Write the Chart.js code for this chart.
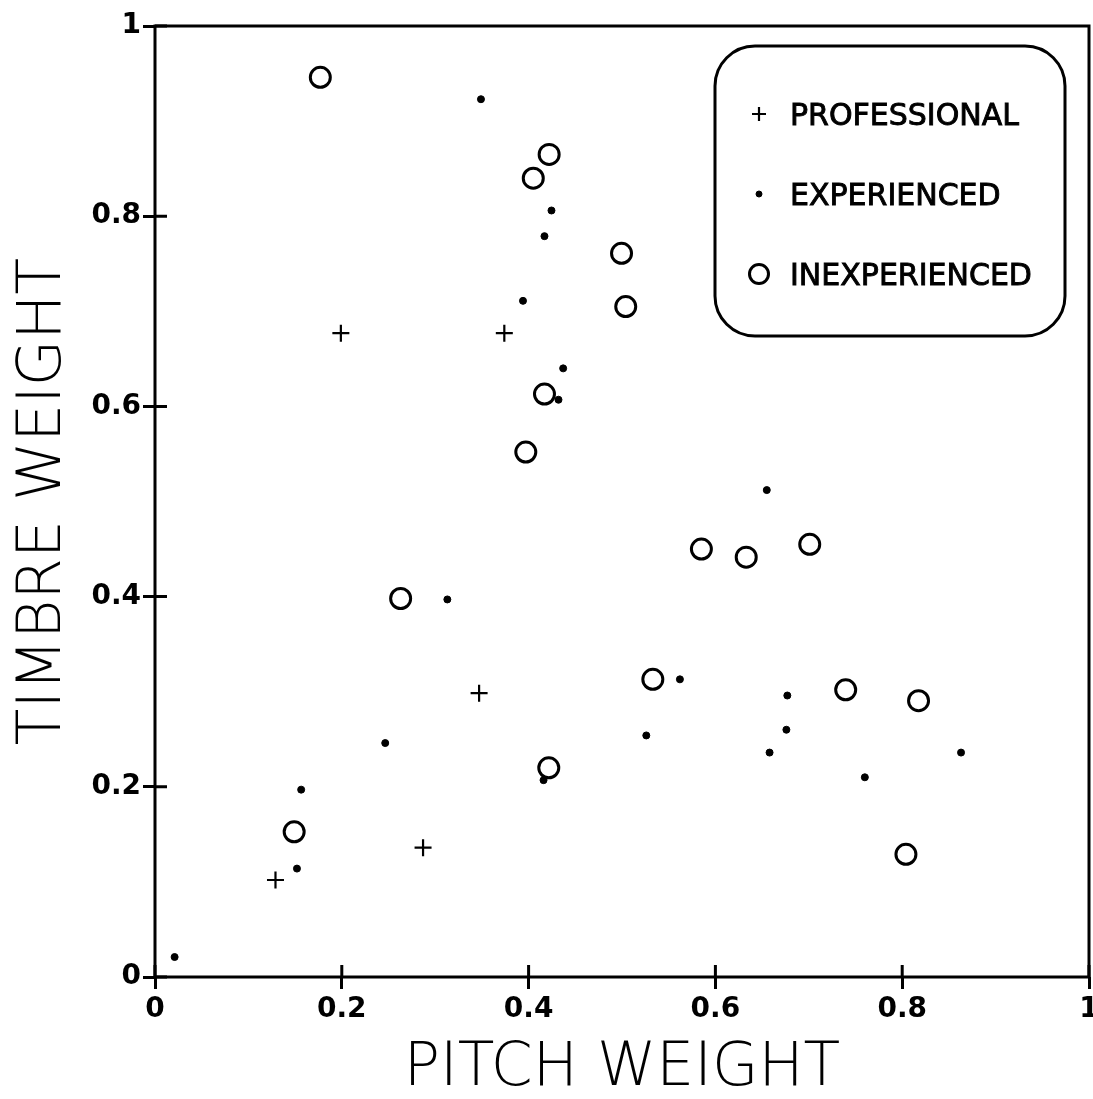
<!DOCTYPE html>
<html>
<head>
<meta charset="utf-8">
<script src="https://cdn.jsdelivr.net/npm/chart.js@4.4.0/dist/chart.umd.min.js"></script>
<style>
    html, body { margin: 0; padding: 0; background: #fff; }
    #wrap { width: 1093px; height: 1099px; }
</style>
</head>
<body>
<div id="wrap"><canvas id="chart"></canvas></div>
<script>
// values
const seriesNames = ['PROFESSIONAL', 'EXPERIENCED', 'INEXPERIENCED'];

const professionalX = [0.199, 0.374, 0.347, 0.287, 0.129];
const professionalY = [0.677, 0.677, 0.2985, 0.136, 0.102];

const experiencedX = [0.349, 0.4245, 0.417, 0.394, 0.437, 0.432, 0.655, 0.313, 0.2465, 0.1565,
    0.152, 0.021, 0.562, 0.677, 0.676, 0.526, 0.658, 0.760, 0.863, 0.416];
const experiencedY = [0.923, 0.806, 0.779, 0.711, 0.640, 0.607, 0.512, 0.397, 0.246, 0.197,
    0.114, 0.021, 0.313, 0.296, 0.260, 0.254, 0.236, 0.210, 0.236, 0.207];

const inexperiencedX = [0.177, 0.422, 0.405, 0.4995, 0.504, 0.417, 0.397, 0.585, 0.633, 0.701,
    0.263, 0.533, 0.7395, 0.8175, 0.4216, 0.149, 0.804];
const inexperiencedY = [0.946, 0.865, 0.840, 0.761, 0.705, 0.613, 0.552, 0.450, 0.4415, 0.455,
    0.398, 0.313, 0.302, 0.2905, 0.220, 0.1527, 0.129];

const xTickLabels = ['0', '0.2', '0.4', '0.6', '0.8', '1'];
const yTickLabels = ['0', '0.2', '0.4', '0.6', '0.8', '1'];

const toPoints = (xs, ys) => xs.map((x, i) => ({ x: x, y: ys[i] }));

const tickFont = { family: 'DejaVu Sans', size: 28, weight: 'bold' };
const titleFont = { family: 'DejaVu Sans', size: 60, weight: 200, lineHeight: 1 };

// frame, inward ticks and the rounded legend box
const framePlugin = {
    id: 'frame',
    afterDatasetsDraw(chart) {
        const { ctx, chartArea: a, scales } = chart;
        ctx.save();
        ctx.strokeStyle = '#000';
        ctx.lineWidth = 3;
        ctx.strokeRect(a.left, a.top, a.right - a.left, a.bottom - a.top);

        ctx.beginPath();
        scales.x.ticks.forEach(t => {
            const px = scales.x.getPixelForValue(t.value);
            ctx.moveTo(px, a.bottom);
            ctx.lineTo(px, a.bottom - 12);
        });
        scales.y.ticks.forEach(t => {
            const py = scales.y.getPixelForValue(t.value);
            ctx.moveTo(a.left, py);
            ctx.lineTo(a.left + 12, py);
        });
        ctx.stroke();

        // legend
        const bx = a.right - 374, by = a.top + 20;
        ctx.beginPath();
        ctx.roundRect(bx, by, 350, 290, 40);
        ctx.stroke();

        const rowBase = [79, 159, 239];
        ctx.font = '30px "DejaVu Sans"';
        ctx.textAlign = 'left';
        ctx.textBaseline = 'alphabetic';
        chart.data.datasets.forEach((ds, i) => {
            const cy = by + rowBase[i] - 11;
            ctx.fillStyle = ds.backgroundColor;
            ctx.strokeStyle = ds.borderColor;
            ctx.lineWidth = ds.borderWidth;
            Chart.helpers.drawPoint(ctx, {
                pointStyle: ds.pointStyle,
                radius: ds.legendRadius,
                borderWidth: ds.borderWidth,
                rotation: 0
            }, bx + 44, cy);
            ctx.fillStyle = '#000';
            ctx.strokeStyle = '#000';
            ctx.lineWidth = 0.9;
            ctx.fillText(ds.label, bx + 75, by + rowBase[i]);
            ctx.strokeText(ds.label, bx + 75, by + rowBase[i]);
        });
        ctx.restore();
    }
};

new Chart(document.getElementById('chart'), {
    type: 'scatter',
    data: {
        datasets: [
            {
                label: seriesNames[0],
                data: toPoints(professionalX, professionalY),
                pointStyle: 'cross',
                pointRadius: 8.5,
                legendRadius: 7,
                borderColor: '#000',
                backgroundColor: '#000',
                borderWidth: 2.2
            },
            {
                label: seriesNames[1],
                data: toPoints(experiencedX, experiencedY),
                pointStyle: 'circle',
                pointRadius: 3.5,
                legendRadius: 3,
                borderColor: '#000',
                backgroundColor: '#000',
                borderWidth: 1
            },
            {
                label: seriesNames[2],
                data: toPoints(inexperiencedX, inexperiencedY),
                pointStyle: 'circle',
                pointRadius: 10,
                legendRadius: 9.5,
                borderColor: '#000',
                backgroundColor: 'rgba(0,0,0,0)',
                borderWidth: 3
            }
        ]
    },
    options: {
        responsive: true,
        maintainAspectRatio: false,
        animation: false,
        layout: {
            autoPadding: false,
            padding: { top: 26, right: 4, left: 0, bottom: 0 }
        },
        plugins: {
            legend: { display: false },
            tooltip: { enabled: false }
        },
        scales: {
            x: {
                type: 'linear',
                min: 0,
                max: 1,
                border: { display: false },
                grid: {
                    drawOnChartArea: false,
                    tickLength: 12,
                    tickWidth: 3,
                    color: '#000'
                },
                ticks: {
                    stepSize: 0.2,
                    color: '#000',
                    font: tickFont,
                    padding: 4,
                    maxRotation: 0,
                    callback: (v, i) => xTickLabels[i]
                },
                title: {
                    display: true,
                    text: 'PITCH WEIGHT',
                    color: '#000',
                    font: titleFont,
                    padding: { top: 0, bottom: 0 }
                },
                afterFit(s) {
                    s.height = 122;
                    s.paddingLeft = 0;
                    s.paddingRight = 0;
                }
            },
            y: {
                type: 'linear',
                min: 0,
                max: 1,
                border: { display: false },
                grid: {
                    drawOnChartArea: false,
                    tickLength: 12,
                    tickWidth: 3,
                    color: '#000'
                },
                ticks: {
                    stepSize: 0.2,
                    color: '#000',
                    font: tickFont,
                    padding: 2,
                    callback: (v, i) => yTickLabels[i]
                },
                title: {
                    display: true,
                    text: 'TIMBRE WEIGHT',
                    color: '#000',
                    font: titleFont,
                    padding: { top: 14, bottom: 0 }
                },
                afterFit(s) {
                    s.width = 155;
                    s.paddingTop = 0;
                    s.paddingBottom = 0;
                }
            }
        }
    },
    plugins: [framePlugin]
});
</script>
</body>
</html>
